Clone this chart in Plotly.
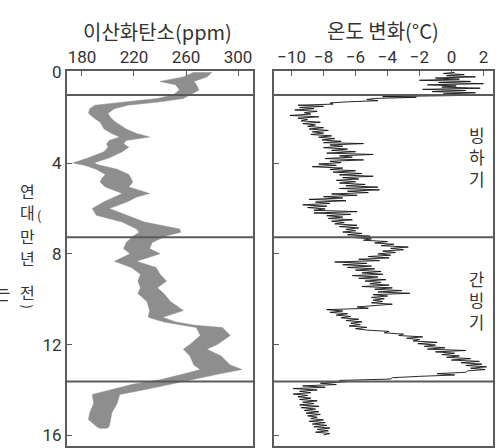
import plotly.graph_objects as go
from plotly.subplots import make_subplots

# CO2 band (ppm) vs age (10^4 years ago)
co2_age = [0.0, 0.2, 0.4, 0.55, 0.78, 1.0, 1.15, 1.3, 1.45, 1.6, 1.8, 2.0, 2.2, 2.5, 2.7, 2.85,
           3.0, 3.15, 3.3, 3.5, 3.77, 4.0, 4.1, 4.27, 4.5, 4.7, 4.84, 5.05, 5.34, 5.5, 5.7, 6.0,
           6.3, 6.6, 6.9, 7.05, 7.2, 7.5, 7.77, 8.0, 8.33, 8.6, 8.9, 9.2, 9.5, 9.75, 10.1, 10.5,
           10.8, 11.0, 11.15, 11.25, 11.6, 12.0, 12.2, 12.5, 12.9, 13.1, 13.3, 13.55, 13.75, 14.0,
           14.2, 14.6, 15.0, 15.3, 15.6, 15.7]
co2_low = [266, 258, 240, 252, 255, 250, 238, 215, 190, 186, 185, 189, 194, 197, 203, 209,
           201, 199, 200, 197, 185, 173, 182, 191, 198, 195, 194, 198, 211, 205, 197, 188,
           191, 211, 222, 224, 220, 214, 212, 217, 205, 218, 225, 223, 225, 223, 230, 232,
           231, 243, 258, 268, 271, 263, 258, 263, 266, 271, 258, 240, 219, 201,
           188, 189, 186, 185, 191, 194]
co2_high = [280, 276, 266, 268, 270, 263, 258, 240, 215, 205, 200, 202, 206, 214, 222, 232,
            214, 212, 216, 211, 201, 189, 194, 207, 216, 218, 219, 216, 232, 222, 215, 201,
            214, 228, 255, 256, 245, 234, 232, 240, 222, 237, 240, 245, 238, 243, 248, 258,
            242, 252, 267, 288, 294, 284, 276, 287, 294, 303, 285, 263, 248, 227,
            209, 207, 203, 202, 201, 199]

# Temperature change (deg C) vs age
temp_age = [0.0, 0.05, 0.1, 0.15, 0.2, 0.25, 0.3, 0.35, 0.4, 0.45, 0.5, 0.55, 0.6, 0.65, 0.7, 0.75,
            0.8, 0.85, 0.9, 0.95, 1.0, 1.03, 1.07, 1.1, 1.15, 1.2, 1.25, 1.3, 1.35, 1.4, 1.45, 1.5,
            1.55, 1.6, 1.66, 1.72, 1.78, 1.84, 1.9, 1.96, 2.02, 2.08, 2.14, 2.2, 2.26, 2.32, 2.38,
            2.44, 2.5, 2.56, 2.62, 2.68, 2.74, 2.8, 2.86, 2.92, 2.98, 3.04, 3.1, 3.14, 3.2, 3.26,
            3.32, 3.38, 3.44, 3.5, 3.56, 3.62, 3.68, 3.74, 3.8, 3.86, 3.92, 3.98, 4.04, 4.1, 4.16,
            4.22, 4.28, 4.34, 4.4, 4.46, 4.52, 4.58, 4.64, 4.7, 4.76, 4.82, 4.88, 4.94, 5.0, 5.06,
            5.12, 5.18, 5.24, 5.3, 5.36, 5.42, 5.48, 5.54, 5.6, 5.66, 5.72, 5.78, 5.84, 5.9, 5.96,
            6.02, 6.08, 6.14, 6.2, 6.26, 6.32, 6.38, 6.44, 6.5, 6.56, 6.62, 6.68, 6.74, 6.8, 6.86,
            6.92, 6.98, 7.04, 7.1, 7.16, 7.22, 7.28, 7.34,
            7.4, 7.46, 7.52, 7.58, 7.64, 7.7, 7.76, 7.82, 7.88, 7.94, 8.0, 8.06, 8.12, 8.18, 8.24,
            8.3, 8.36, 8.42, 8.48, 8.54, 8.6, 8.66, 8.72, 8.78, 8.84, 8.9, 8.96, 9.02, 9.08, 9.14,
            9.2, 9.26, 9.32, 9.38, 9.44, 9.5, 9.56, 9.62, 9.68, 9.74, 9.8, 9.86, 9.92, 9.98, 10.04,
            10.1, 10.16, 10.22, 10.28, 10.34, 10.4, 10.46, 10.52, 10.58, 10.64, 10.7, 10.76, 10.82,
            10.88, 10.94, 11.0, 11.06, 11.12, 11.18, 11.24, 11.3, 11.36, 11.42, 11.48, 11.54, 11.6,
            11.66, 11.72, 11.78, 11.84, 11.9, 11.96, 12.02, 12.08, 12.14, 12.2, 12.26, 12.32, 12.38,
            12.44, 12.5, 12.56, 12.62, 12.68, 12.74, 12.8, 12.86, 12.92, 12.98, 13.04, 13.1, 13.16,
            13.22, 13.28, 13.34, 13.4, 13.46, 13.52, 13.58, 13.64, 13.7, 13.76,
            13.82, 13.88, 13.94, 14.0, 14.06, 14.12, 14.18, 14.24, 14.3, 14.36, 14.42, 14.48, 14.54,
            14.6, 14.66, 14.72, 14.78, 14.84, 14.9, 14.96, 15.02, 15.08, 15.14, 15.2, 15.26, 15.32,
            15.38, 15.44, 15.5, 15.56, 15.62, 15.68, 15.74, 15.8, 15.86, 15.92, 15.98]
temp_val = [0.2, -0.5, 0.8, -0.3, 1.5, -1.0, 0.5, -2.0, 1.2, -0.8, 2.0, -1.5, 0.3, -0.6, 1.8, -1.8,
            0.9, -1.2, 1.5, -0.5, 2.6, -1.0, -4.3, -2.2, -4.8, -5.3, -4.6, -6.5, -7.6, -7.4, -9.6, -8.0,
            -9.5, -8.6, -9.8, -8.4, -9.2, -8.8, -10.1, -8.3, -9.6, -9.0, -9.4, -8.2, -9.3, -8.5, -9.0,
            -8.0, -8.9, -7.7, -8.7, -8.0, -8.8, -7.5, -8.3, -7.3, -8.1, -6.9, -8.0, -5.5, -7.6, -6.8,
            -8.0, -6.5, -7.5, -6.0, -7.8, -4.9, -7.0, -6.2, -7.9, -5.5, -7.6, -6.9, -8.3, -7.2, -8.7,
            -6.8, -7.6, -6.0, -7.4, -5.6, -7.0, -4.9, -6.8, -5.8, -7.2, -6.0, -7.0, -5.4, -6.6, -4.6,
            -7.0, -4.5, -6.5, -5.2, -7.5, -5.9, -8.0, -6.8, -8.9, -6.6, -8.5, -7.6, -9.3, -7.8, -9.0,
            -7.9, -8.6, -5.9, -8.6, -6.3, -7.8, -6.8, -7.7, -6.2, -7.5, -6.7, -7.3, -5.9, -7.0, -5.8,
            -6.6, -6.0, -6.8, -5.6, -6.5, -5.1, -6.2, -5.0,
            -5.5, -4.0, -4.8, -3.6, -4.4, -2.7, -3.8, -3.0, -4.3, -3.5, -4.6, -3.8, -5.2, -3.9, -5.8,
            -4.5, -7.3, -5.3, -6.8, -5.0, -6.5, -4.8, -6.0, -4.4, -5.6, -4.3, -6.2, -4.6, -5.8, -4.1,
            -5.4, -4.4, -5.1, -3.9, -5.6, -3.7, -4.8, -3.1, -4.6, -2.6, -4.9, -4.0, -5.0, -4.2, -4.9,
            -4.3, -5.0, -3.7, -4.6, -5.9, -5.2, -7.8, -6.8, -7.6, -6.5, -7.2, -6.3, -6.9,
            -5.8, -6.6, -5.6, -6.3, -5.7, -6.4, -5.3, -6.0, -5.3, -3.9, -4.2, -3.0, -3.3,
            -1.8, -2.8, -2.0, -2.4, -0.9, -2.1, -1.0, -1.7, -0.4, -1.5, 0.9, -1.0, 0.2,
            -0.6, 0.5, -0.3, 1.2, 0.0, 1.75, 0.6, 1.9, 0.9, 2.2, 1.2, 2.1, 1.0,
            0.9, -0.9, 0.2, -2.0, -3.7, -3.8, -7.0, -6.6, -8.2, -7.2,
            -9.3, -7.9, -9.9, -8.4, -9.5, -8.8, -9.9, -9.0, -9.6, -8.8, -9.5, -8.4, -9.3,
            -8.6, -9.5, -8.3, -9.4, -8.5, -9.2, -8.3, -9.1, -8.2, -9.0, -8.4, -8.8, -8.0,
            -8.9, -7.9, -8.7, -7.8, -8.6, -7.6, -8.4, -7.7, -8.5, -7.6, -8.0]

boundary_ages = [1.0, 7.27, 13.63]
co2_ticks = [180, 220, 260, 300]
temp_ticks = [-10, -8, -6, -4, -2, 0, 2]
temp_ticktext = ["\u221210", "\u22128", "\u22126", "\u22124", "\u22122", "0", "2"]
age_ticks = [0, 4, 8, 12, 16]

W, H = 501, 448
fig = make_subplots(rows=1, cols=2)

fig.add_trace(go.Scatter(x=co2_low, y=co2_age, mode="lines", line=dict(color="#8e8e8e", width=0.5),
                         showlegend=False, hoverinfo="skip"), row=1, col=1)
fig.add_trace(go.Scatter(x=co2_high, y=co2_age, mode="lines", line=dict(color="#8e8e8e", width=0.5),
                         fill="tonextx", fillcolor="#8e8e8e", showlegend=False, hoverinfo="skip"),
              row=1, col=1)
fig.add_trace(go.Scatter(x=temp_val, y=temp_age, mode="lines", line=dict(color="#111111", width=0.9),
                         showlegend=False, hoverinfo="skip"), row=1, col=2)

tickfont = dict(family="Liberation Sans Narrow, Roboto, sans-serif", size=17, color="#333333")
axcol = "#5a5a5a"
ydom = [0, 1 - 64 / H]
yrange = [16.47, -0.04]

fig.update_xaxes(domain=[67 / W, 253 / W], range=[168.5, 311.5], tickvals=co2_ticks,
                 side="top", ticks="inside", ticklen=5, tickcolor=axcol, showgrid=False,
                 zeroline=False, showline=True, linecolor=axcol, linewidth=2, mirror=True,
                 tickfont=tickfont, row=1, col=1)
fig.update_xaxes(domain=[274 / W, 493 / W], range=[-11.1, 2.6], tickvals=temp_ticks,
                 ticktext=temp_ticktext,
                 side="top", ticks="inside", ticklen=5, tickcolor=axcol, showgrid=False,
                 zeroline=False, showline=True, linecolor=axcol, linewidth=2, mirror=True,
                 tickfont=tickfont, row=1, col=2)
fig.update_yaxes(domain=ydom, range=yrange, tickvals=age_ticks, ticks="inside", ticklen=5,
                 tickcolor=axcol, showgrid=False, zeroline=False, showline=True, linecolor=axcol,
                 linewidth=2, mirror=True, tickfont=tickfont, row=1, col=1)
fig.update_yaxes(domain=ydom, range=yrange, tickvals=age_ticks, showticklabels=False,
                 ticks="inside", ticklen=5, tickcolor=axcol, showgrid=False, zeroline=False,
                 showline=True, linecolor=axcol, linewidth=2, mirror=True, row=1, col=2)

for a in boundary_ages:
    for xr, yr in (("x domain", "y"), ("x2 domain", "y2")):
        fig.add_shape(type="line", xref=xr, yref=yr, x0=0, x1=1, y0=a, y1=a,
                      line=dict(color=axcol, width=2))

kfont = "Noto Sans CJK KR, sans-serif"


def txt(text, x, y, size, angle=0, xanchor="center"):
    fig.add_annotation(text=text, x=x / W, y=1 - y / H, xref="paper", yref="paper",
                       xanchor=xanchor, yanchor="middle", showarrow=False, textangle=angle,
                       font=dict(family=kfont, size=size, color="#333333"))


txt("이산화탄소(ppm)", 157, 23, 20)
txt("온도 변화(°C)", 383, 22, 20)
txt("빙<br>하<br>기", 477, 151, 17)
txt("간<br>빙<br>기", 476, 299, 16.5)
for ch, yy in (("연", 187), ("대", 208), ("만", 233), ("년", 255), ("전", 290)):
    txt(ch, 27, yy, 16)
txt("(", 39, 212, 13)
txt(")", 27, 305, 13, 90)
txt("는", 12, 290, 19, xanchor="right")

fig.update_layout(width=W, height=H, margin=dict(l=0, r=0, t=0, b=0),
                  plot_bgcolor="white", paper_bgcolor="white", showlegend=False)

fig.write_html("out.html", config={"displayModeBar": False},
               post_script="document.body.style.margin='0';document.body.style.padding='0';"
                           "document.documentElement.style.overflow='hidden';")
